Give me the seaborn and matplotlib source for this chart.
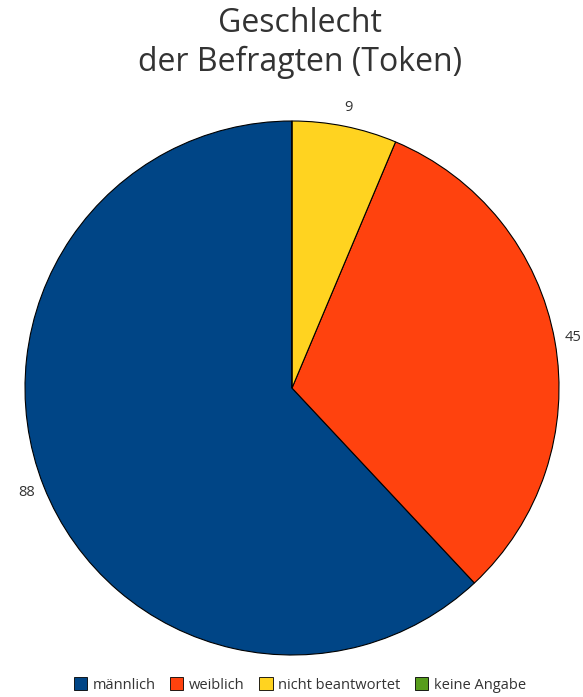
import matplotlib.pyplot as plt
import seaborn as sns

# Daten
categories = ['männlich', 'weiblich', 'nicht beantwortet', 'keine Angabe']
counts = [88, 45, 9, 0]
colors = ['#004586', '#ff420e', '#ffd320', '#579d1c']

sns.set_theme(style='white')
plt.rcParams['font.family'] = ['Open Sans', 'DejaVu Sans']
text_color = '#333333'

fig = plt.figure(figsize=(5.83, 6.97), dpi=100)
fig.text(300 / 583, 1 - 43 / 697, 'Geschlecht\nder Befragten (Token)', ha='center', va='center',
         fontsize=23, color=text_color, linespacing=1.2)

ax = fig.add_axes([(292 - 267) / 583, (309 - 267) / 697, 534 / 583, 534 / 697])
labels = [str(c) if c > 0 else '' for c in counts]
wedges, texts = ax.pie(counts, labels=labels, colors=sns.color_palette(colors),
                       startangle=90, counterclock=True, labeldistance=1.07,
                       wedgeprops=dict(edgecolor='black', linewidth=0.8),
                       textprops=dict(fontsize=10.5, color=text_color))
for t in texts:
    t.set_ha('center')
    t.set_va('center')
ax.set_xlim(-1, 1)
ax.set_ylim(-1, 1)
ax.set_aspect('equal')
ax.axis('off')

leg = fig.legend(wedges, categories, loc='center', bbox_to_anchor=(300 / 583, 12 / 697),
                 ncol=4, frameon=False, fontsize=10.5, handlelength=0.9, handleheight=0.9,
                 handletextpad=0.4, columnspacing=1.0, labelcolor=text_color)
for h in leg.legend_handles:
    h.set_edgecolor('black')
    h.set_linewidth(0.6)

fig.savefig('out.png', dpi=100)
